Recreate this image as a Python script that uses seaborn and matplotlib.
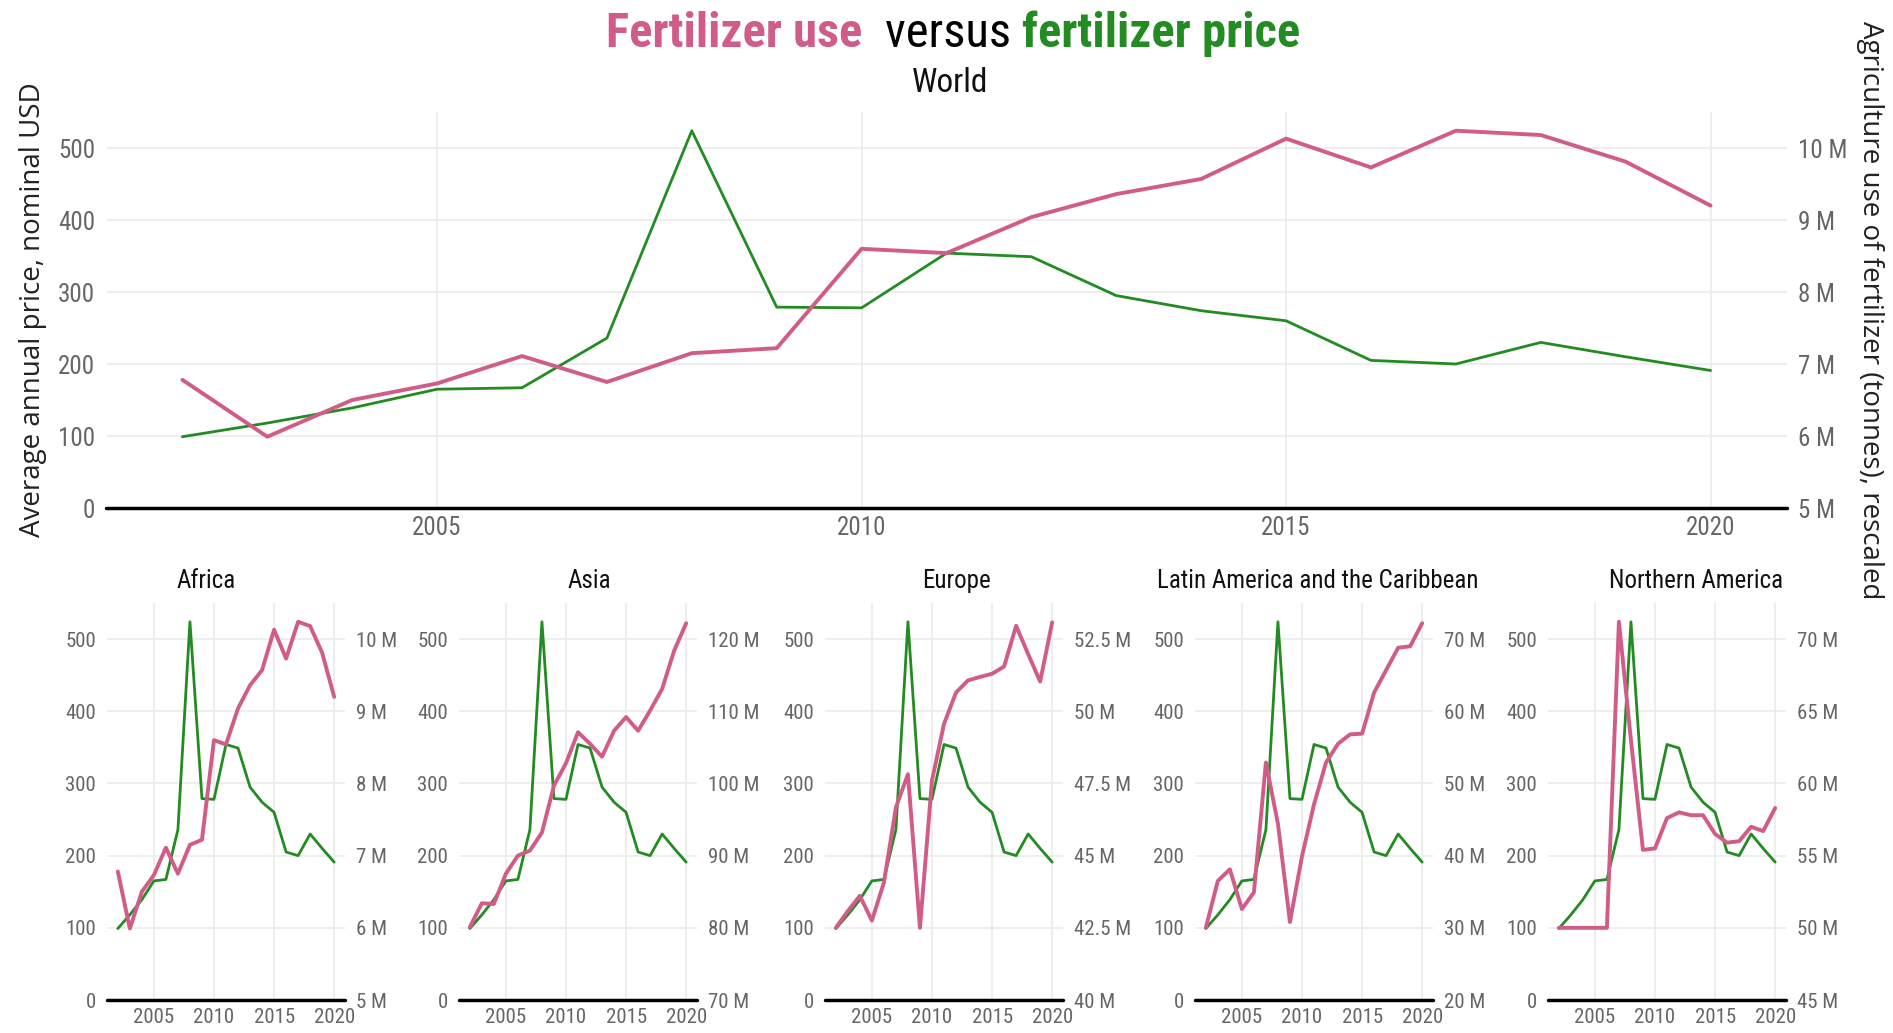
import matplotlib
matplotlib.use("Agg")
import matplotlib.pyplot as plt
import seaborn as sns
import pandas as pd
from matplotlib import font_manager

YEARS = list(range(2002, 2021))

# average annual fertilizer price, nominal USD (same series in every panel)
PRICE = [99, 118, 139, 165, 167, 236, 524, 279, 278, 354, 349, 295, 274, 260,
         205, 200, 230, 210, 191]

# agriculture use of fertilizer, million tonnes
USE_WORLD = [6.78, 5.99, 6.50, 6.73, 7.11, 6.75, 7.15, 7.22, 8.60, 8.54, 9.04,
             9.36, 9.57, 10.13, 9.73, 10.24, 10.18, 9.81, 9.20]
USE_AFRICA = [6.78, 5.99, 6.50, 6.73, 7.11, 6.75, 7.15, 7.22, 8.60, 8.54, 9.04,
              9.36, 9.57, 10.13, 9.73, 10.24, 10.18, 9.81, 9.20]
USE_ASIA = [80.1, 83.4, 83.3, 87.5, 90.0, 90.7, 93.2, 99.7, 102.8, 107.1, 105.5,
            103.7, 107.3, 109.2, 107.3, 110.1, 113.1, 118.4, 122.2]
USE_EUROPE = [42.5, 43.08, 43.61, 42.75, 44.07, 46.67, 47.82, 42.5, 47.6, 49.56,
              50.65, 51.07, 51.19, 51.3, 51.55, 52.96, 51.98, 51.03, 53.08]
USE_LATAM = [30.0, 36.5, 38.1, 32.6, 34.9, 52.9, 44.4, 30.8, 39.9, 47.1, 52.9,
             55.5, 56.8, 56.9, 62.6, 65.7, 68.8, 69.0, 72.2]
USE_NAMERICA = [50.0, 50.0, 50.0, 50.0, 50.0, 71.2, 63.0, 55.4, 55.5, 57.6, 58.0,
                57.8, 57.8, 56.5, 55.9, 56.0, 57.0, 56.7, 58.3]

REGIONS = ["Africa", "Asia", "Europe", "Latin America and the Caribbean",
           "Northern America"]
REGION_USE = [USE_AFRICA, USE_ASIA, USE_EUROPE, USE_LATAM, USE_NAMERICA]
# right axis: value at price 0 and step per 100 USD
RIGHT_BASE = [5, 70, 40, 20, 45]
RIGHT_STEP = [1, 10, 2.5, 10, 5]

PRICE_TICKS = [0, 100, 200, 300, 400, 500]
YEAR_TICKS = [2005, 2010, 2015, 2020]

PINK = "#D05C87"
GREEN = "#228B22"
GREY = "#666666"

sns.set_theme(style="whitegrid")
names = {f.name for f in font_manager.fontManager.ttflist}
NARROW = next((n for n in ["Liberation Sans Narrow", "Roboto Condensed",
                           "DejaVu Sans Condensed"] if n in names), "DejaVu Sans")
WIDE = "Open Sans" if "Open Sans" in names else "DejaVu Sans"
plt.rcParams["font.family"] = [NARROW, "DejaVu Sans"]


def style_panel(ax, ax2, base, step, tick_size):
    ax.set_xlim(2002 - 0.9, 2020 + 0.9)
    ax.set_ylim(0, 550)
    ax.set_xticks(YEAR_TICKS)
    ax.set_yticks(PRICE_TICKS)
    ax2.set_ylim(base, base + step * 5.5)
    ax2.set_yticks([base + step * i for i in range(6)])
    ax2.set_yticklabels([f"{base + step * i:g} M" for i in range(6)])
    for a in (ax, ax2):
        a.set_xlabel("")
        a.set_ylabel("")
        for s in a.spines.values():
            s.set_visible(False)
        a.tick_params(length=0, labelsize=tick_size, labelcolor=GREY)
        if a.get_legend():
            a.get_legend().remove()
    ax.tick_params(axis="y", pad=8)
    ax.tick_params(axis="x", pad=6)
    ax2.tick_params(axis="y", pad=8)
    ax2.grid(False)
    ax.grid(True, color="#EBEBEB", linewidth=1.2)
    ax.axhline(0, color="black", linewidth=2.5, zorder=5, clip_on=False)


def draw_panel(fig, rect, use, base, step, tick_size):
    ax = fig.add_axes(rect)
    df = pd.DataFrame({"year": YEARS, "price": PRICE, "use": use})
    sns.lineplot(data=df, x="year", y="price", ax=ax, color=GREEN, linewidth=2.0)
    ax2 = ax.twinx()
    sns.lineplot(data=df, x="year", y="use", ax=ax2, color=PINK, linewidth=2.8)
    style_panel(ax, ax2, base, step, tick_size)
    return ax, ax2


W, H = 1893, 1033
fig = plt.figure(figsize=(W / 100, H / 100), dpi=100)
fig.patch.set_facecolor("white")

# world panel
top, top2 = draw_panel(fig, [106 / W, 1 - 508 / H, (1787 - 106) / W, (508 - 112) / H],
                       USE_WORLD, 5, 1, 18)
top.set_ylabel("Average annual price, nominal USD", fontsize=20, family=WIDE,
               color="#222222", labelpad=8)
top2.set_ylabel("Agriculture use of fertilizer (tonnes), rescaled", fontsize=20,
                family=WIDE, color="#222222", rotation=270, labelpad=26)

# regional panels
panel_left = [107, 459, 825, 1195, 1548]
title_x = [206, 589, 956, 1318, 1696]
for i, region in enumerate(REGIONS):
    x0 = panel_left[i]
    draw_panel(fig, [x0 / W, 1 - 1000 / H, 238 / W, (1000 - 603) / H],
               REGION_USE[i], RIGHT_BASE[i], RIGHT_STEP[i], 15)
    fig.text(title_x[i] / W, 1 - 588 / H, region, ha="center", va="baseline",
             fontsize=18, color="#111111")

# title with coloured words
renderer = fig.canvas.get_renderer()
parts = [("Fertilizer use  ", PINK, "bold"), ("versus ", "black", "normal"),
         ("fertilizer price", GREEN, "bold")]
texts = [fig.text(0, 1 - 47 / H, s, color=c, fontweight=w, fontsize=35,
                  va="baseline") for s, c, w in parts]
widths = [t.get_window_extent(renderer).width for t in texts]
x = 953 - sum(widths) / 2
for t, w in zip(texts, widths):
    t.set_x(x / W)
    x += w
fig.text(950 / W, 1 - 92 / H, "World", ha="center", va="baseline", fontsize=24,
         color="#111111")

fig.savefig("out.png", dpi=100, facecolor="white")
